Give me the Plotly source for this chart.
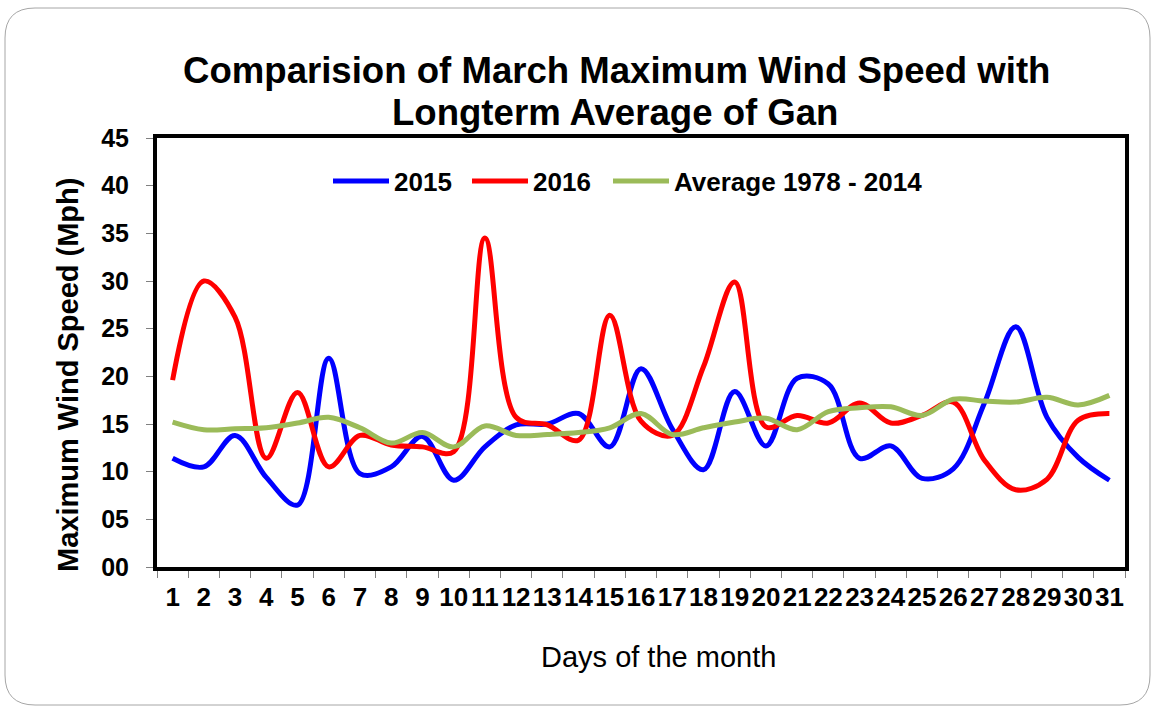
import plotly.graph_objects as go

days = [str(d) for d in range(1, 32)]

wind_2015 = [11.4, 10.5, 13.8, 9.4, 6.5, 21.9, 9.8, 10.5, 13.7, 9.1,
             12.6, 14.9, 15.0, 16.1, 12.6, 20.8, 14.5, 10.2, 18.4, 12.7,
             19.8, 19.2, 11.4, 12.7, 9.3, 10.3, 17.2, 25.2, 15.7, 11.5, 9.1]

wind_2016 = [19.6, 30.0, 26.2, 11.4, 18.3, 10.5, 13.8, 12.8, 12.6, 12.1,
             34.5, 15.7, 14.9, 13.3, 26.4, 15.3, 13.8, 21.0, 29.9, 14.7,
             15.9, 15.1, 17.2, 15.1, 15.9, 17.3, 11.2, 8.1, 9.2, 15.4, 16.1]

wind_avg = [15.2, 14.4, 14.5, 14.6, 15.1, 15.7, 14.6, 13.0, 14.1, 12.6,
            14.8, 13.8, 13.9, 14.1, 14.6, 16.1, 13.9, 14.6, 15.2, 15.6,
            14.4, 16.3, 16.7, 16.8, 15.9, 17.6, 17.4, 17.3, 17.8, 17.0, 18.0]

series = [
    ("2015", wind_2015, "#0000ff"),
    ("2016", wind_2016, "#ff0000"),
    ("Average 1978 - 2014", wind_avg, "#9bbb59"),
]

title_lines = ["Comparision of March Maximum Wind Speed with",
               "Longterm Average of Gan"]

FONT = "Arial, Liberation Sans, sans-serif"
W, H = 1156, 708
# plot area in pixels
L, R, T, B = 157, 1125, 138, 567


def px(x, y):
    """pixel position -> paper coordinates"""
    return (x - L) / (R - L), (B - y) / (B - T)


# one legend per series so each entry sits where the original has it
legend_x = [328, 467, 608]
legend_names = ["legend", "legend2", "legend3"]

fig = go.Figure()
for (name, vals, color), lg in zip(series, legend_names):
    fig.add_trace(go.Scatter(
        x=days, y=vals, name=name, mode="lines", legend=lg,
        line=dict(color=color, width=5, shape="spline", smoothing=1),
    ))

# rounded slide frame
x0, y0 = px(5, 8)
x1, y1 = px(1150, 705)
rx, ry = 30 / (R - L), 30 / (B - T)
frame = (f"M{x0 + rx},{y0} L{x1 - rx},{y0} Q{x1},{y0} {x1},{y0 - ry} "
         f"L{x1},{y1 + ry} Q{x1},{y1} {x1 - rx},{y1} "
         f"L{x0 + rx},{y1} Q{x0},{y1} {x0},{y1 + ry} "
         f"L{x0},{y0 - ry} Q{x0},{y0} {x0 + rx},{y0} Z")
fig.add_shape(type="path", path=frame, xref="paper", yref="paper",
              line=dict(color="#a6a6a6", width=1), layer="below")

# title, two lines placed separately
for text, (tx, ty) in zip(title_lines, [(616, 70), (615, 112)]):
    ax, ay = px(tx, ty)
    fig.add_annotation(text=text, x=ax, y=ay, xref="paper", yref="paper",
                       xanchor="center", yanchor="middle", showarrow=False,
                       font=dict(size=36.6, color="black", family=FONT, weight="bold"))

ax, ay = px(68, 375)
fig.add_annotation(text="Maximum Wind Speed (Mph)", x=ax, y=ay,
                   xref="paper", yref="paper", xanchor="center", yanchor="middle",
                   showarrow=False, textangle=-90,
                   font=dict(size=29, color="black", family=FONT, weight="bold"))
bx, by = px(658, 657)
fig.add_annotation(text="Days of the month", x=bx, y=by,
                   xref="paper", yref="paper", xanchor="center", yanchor="middle",
                   showarrow=False,
                   font=dict(size=29, color="black", family=FONT))

legends = {}
for lg, lxp in zip(legend_names, legend_x):
    lx, ly = px(lxp, 181)
    legends[lg] = dict(
        orientation="h", x=lx, y=ly, xanchor="left", yanchor="middle",
        font=dict(size=26, family=FONT, weight="bold"),
        bgcolor="rgba(0,0,0,0)", itemwidth=56,
    )

fig.update_layout(
    width=W, height=H,
    margin=dict(l=L, r=W - R, t=T, b=H - B),
    paper_bgcolor="white", plot_bgcolor="white",
    font=dict(family=FONT, color="black"),
    showlegend=True,
    **legends,
)

fig.update_xaxes(
    type="category", range=[-0.5, 30.5], tickangle=0,
    tickson="boundaries", ticks="outside", ticklen=7, tickcolor="#808080",
    ticklabelstandoff=4,
    showline=True, linecolor="black", linewidth=4, mirror=True,
    showgrid=False, zeroline=False,
    tickfont=dict(size=26, family=FONT, weight="bold"),
)
fig.update_yaxes(
    range=[0, 45], dtick=5, tickformat="02d",
    ticks="outside", ticklen=7, tickcolor="#808080",
    ticklabelstandoff=12,
    showline=True, linecolor="black", linewidth=4, mirror=True,
    showgrid=False, zeroline=False,
    tickfont=dict(size=25, family=FONT, weight="bold"),
)

fig.write_html("out.html", config={"displayModeBar": False},
               post_script="document.body.style.margin='0';")
